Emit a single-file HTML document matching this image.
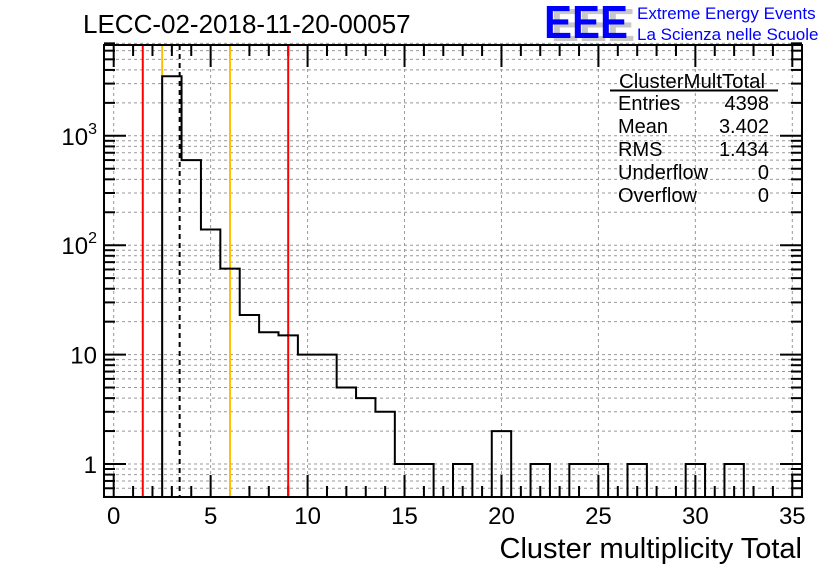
<!DOCTYPE html>
<html><head><meta charset="utf-8"><style>
body{margin:0;background:#fff;width:836px;height:572px;overflow:hidden}
svg{display:block;font-family:"Liberation Sans",sans-serif}
</style></head><body>
<svg id="c" width="836" height="572">
<text x="83" y="33" font-size="26">LECC-02-2018-11-20-00057</text>
<g>
<text x="551" y="41" font-size="46" font-weight="bold" fill="#c8c8c8" textLength="84" lengthAdjust="spacingAndGlyphs">EEE</text>
<text x="544" y="38" font-size="46" font-weight="bold" fill="#0000ff" textLength="84" lengthAdjust="spacingAndGlyphs">EEE</text>
<text x="637" y="19" font-size="17" fill="#0000ff">Extreme Energy Events</text>
<text x="637" y="40" font-size="17" fill="#0000ff">La Scienza nelle Scuole</text>
</g>
<g id="grid"></g><g id="axes"></g><g id="lines"></g><g id="marks"></g><g id="frame"></g>
<g font-size="20">
<text x="619" y="88" textLength="146" lengthAdjust="spacingAndGlyphs">ClusterMultTotal</text>
<line x1="610" y1="90.5" x2="778" y2="90.5" stroke="#000" stroke-width="2"/>
<text x="618" y="110">Entries</text><text x="769" y="110" text-anchor="end">4398</text>
<text x="618" y="133">Mean</text><text x="769" y="133" text-anchor="end">3.402</text>
<text x="618" y="156">RMS</text><text x="769" y="156" text-anchor="end">1.434</text>
<text x="618" y="179">Underflow</text><text x="769" y="179" text-anchor="end">0</text>
<text x="618" y="202">Overflow</text><text x="769" y="202" text-anchor="end">0</text>
</g>
<text x="802" y="558" font-size="29" text-anchor="end">Cluster multiplicity Total</text>
</svg>
<script>
const binCenters=[0,1,2,3,4,5,6,7,8,9,10,11,12,13,14,15,16,17,18,19,20,21,22,23,24,25,26,27,28,29,30,31,32,33,34,35];
const counts=[0,0,0,3500,600,139,61,23,16,15,10,10,5,4,3,1,1,0,1,0,2,0,1,0,1,1,0,1,0,0,1,0,1,0,0,0];
const xTicks=[0,5,10,15,20,25,30,35];
const yTicks=[1,10,100,1000];
const yTickLabels=["1","10","10²","10³"];
const redLines=[1.5,9];
const yellowLines=[2.5,6];
const meanLine=[3.402];
const L=104,R=802,T=45,B=497,X0=-0.5,X1=35.5,YMIN=0.495,YMAX=7000;
const NS="http://www.w3.org/2000/svg";
const sx=v=>L+(v-X0)/(X1-X0)*(R-L);
const ly1=464,dec=109.4;
const sy=v=>ly1-Math.log10(v)*dec;
function mk(tag,attrs,parent){const e=document.createElementNS(NS,tag);for(const k in attrs)e.setAttribute(k,attrs[k]);parent.appendChild(e);return e;}
const grid=document.getElementById('grid'),lines=document.getElementById('lines'),marks=document.getElementById('marks'),axes=document.getElementById('axes'),frame=document.getElementById('frame');
for(const t of xTicks){const e=mk('line',{x1:sx(t),x2:sx(t),y1:T,y2:B,stroke:'#999','stroke-dasharray':'3,3','stroke-width':1},grid);

}
for(let d=0.1;d<=1000;d*=10){for(let m=1;m<10;m++){const v=d*m;if(v<YMIN||v>YMAX)continue;const y=sy(v);
const e=mk('line',{x1:L,x2:R,y1:y,y2:y,stroke:'#999','stroke-dasharray':'3,3','stroke-width':1},grid);


const tl=m===1?22:11;
const t1=mk('line',{x1:L,x2:L+tl,y1:y,y2:y,stroke:'#000','stroke-width':2},axes);


const t2=mk('line',{x1:R,x2:R-tl,y1:y,y2:y,stroke:'#000','stroke-width':2},axes);

}}
let d='';let prevY=B;
binCenters.forEach((c,i)=>{const x0=sx(c-0.5),x1=sx(c+0.5);const y=counts[i]>0?sy(counts[i]):B;
if(i===0)d+=`M${x0},${y}`;else d+=`L${x0},${prevY}L${x0},${y}`;d+=`L${x1},${y}`;prevY=y;});
const h=mk('path',{d:d,fill:'none',stroke:'#000','stroke-width':2},marks);


for(const v of redLines){const e=mk('line',{x1:sx(v),x2:sx(v),y1:T,y2:B,stroke:'#ff0000','stroke-width':2},lines);

}
for(const v of yellowLines){const e=mk('line',{x1:sx(v),x2:sx(v),y1:T,y2:B,stroke:'#ffc000','stroke-width':2},lines);

}
for(const v of meanLine){const e=mk('line',{x1:sx(v),x2:sx(v),y1:T,y2:B,stroke:'#000','stroke-width':2,'stroke-dasharray':'5,4'},lines);

}
const f=mk('rect',{x:L,y:T,width:R-L,height:B-T,fill:'none',stroke:'#000','stroke-width':2},frame);


for(let v=0;v<=35;v++){const maj=v%5===0;const tl=maj?22:11;const x=sx(v);
const a=mk('line',{x1:x,x2:x,y1:B,y2:B-tl,stroke:'#000','stroke-width':2},axes);


const b=mk('line',{x1:x,x2:x,y1:T,y2:T+tl,stroke:'#000','stroke-width':2},axes);

}
for(const t of xTicks){const e=mk('text',{x:sx(t),y:524,'font-size':24,'text-anchor':'middle'},axes);e.textContent=t;

}
yTicks.forEach((t,i)=>{const e=mk('text',{x:97,y:sy(t)+9,'font-size':24,'text-anchor':'end'},axes);
if(t>=100){e.textContent='10';const s=mk('tspan',{dy:-11,'font-size':16},e);s.textContent=String(Math.round(Math.log10(t)));}
else e.textContent=yTickLabels[i];

});
</script>
</body></html>
